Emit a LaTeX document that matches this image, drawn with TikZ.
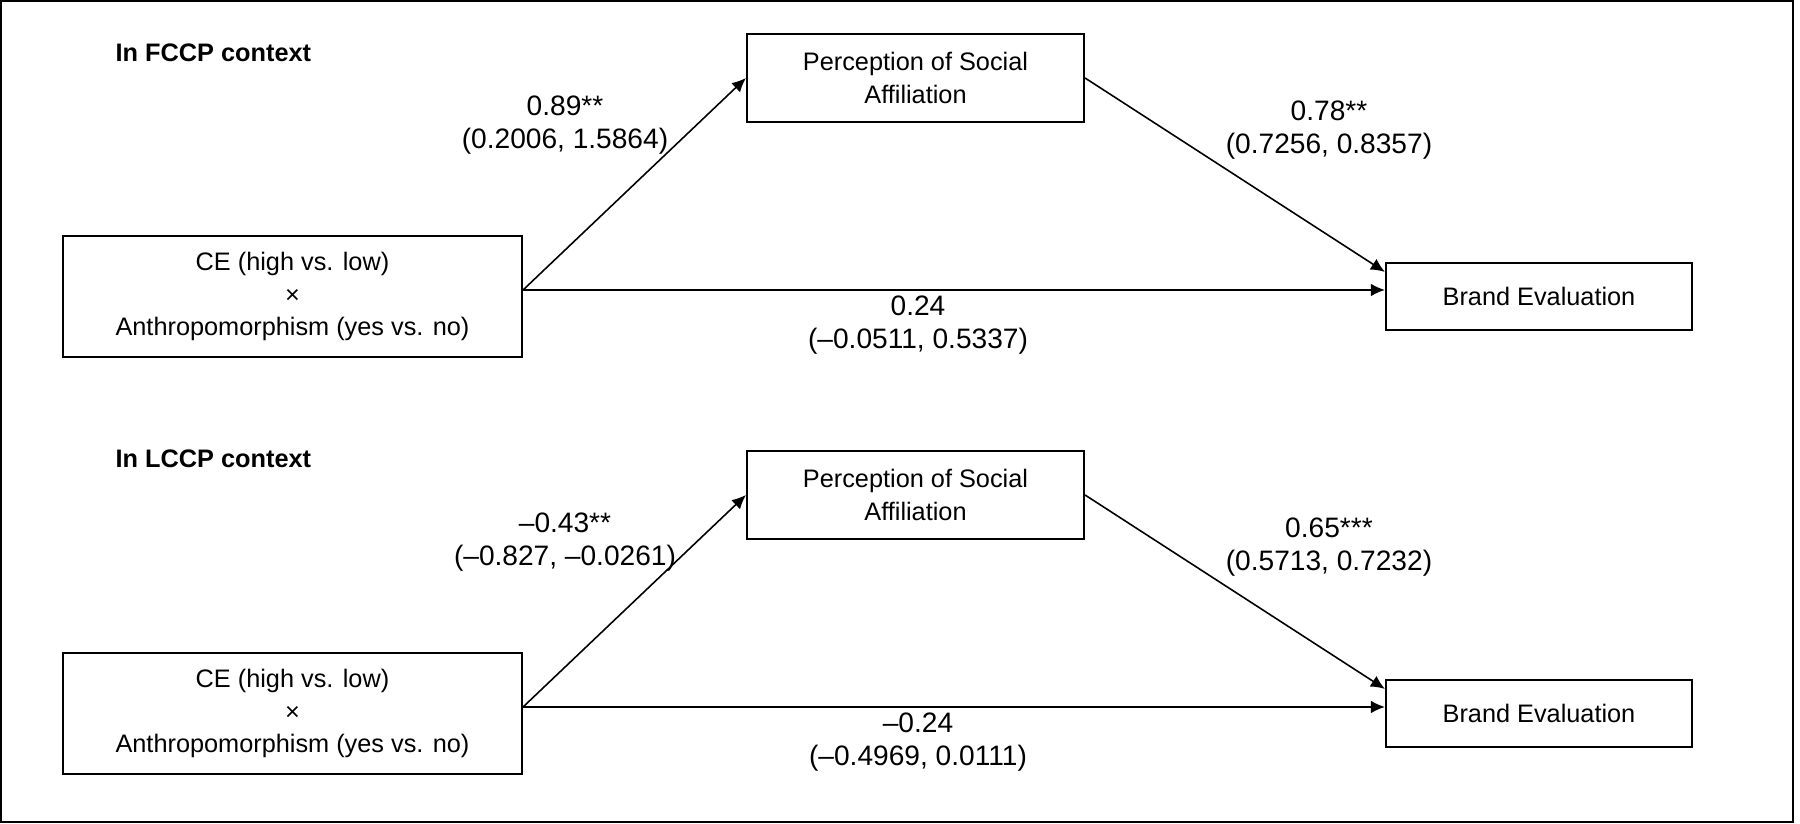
\documentclass[tikz,border=0pt]{standalone}
\usepackage{fontspec}
\setmainfont{Liberation Sans}
\usetikzlibrary{arrows.meta}

\newcommand\diagfont{\fontsize{7.2}{9.2}\selectfont}
\newcommand\coeffont{\fontsize{8}{9.4}\selectfont}

\tikzset{
  varbox/.style={draw, line width=0.6pt, align=center, inner sep=0pt, font=\diagfont},
  pathline/.style={-{Latex[length=4pt,width=3.6pt]}, line width=0.45pt},
  coef/.style={align=center, inner sep=0pt, font=\coeffont},
}

\begin{document}
\begin{tikzpicture}
            \def \lift {0.065}
            \useasboundingbox (0,0) rectangle (18,-8.24);
            \draw[line width=0.6pt] (0.01,-0.01) rectangle (17.93,-8.22);
            \foreach \dy/\ty/\ctx/\ca/\cb/\cc in {0/-0.53/FCCP/{0.89**\\(0.2006, 1.5864)}/{0.78**\\(0.7256, 0.8357)}/{0.24\\(–0.0511, 0.5337)},-4.17/-0.42/LCCP/{–0.43**\\(–0.827, –0.0261)}/{0.65***\\(0.5713, 0.7232)}/{–0.24\\(–0.4969, 0.0111)}}
            {
              \begin{scope}[yshift=\dy cm]
                \node[anchor=west, inner sep=0pt, font=\bfseries\diagfont] (title\ctx) at (1.15,\ty) {In \ctx{} context};
                \node[varbox, minimum width=4.59cm, minimum height=1.21cm] (ce\ctx) at (2.925,-2.965) {CE (high vs. low)\\×\\Anthropomorphism (yes vs. no)};
                \node[varbox, minimum width=3.37cm, minimum height=0.88cm] (med\ctx) at (9.155,-0.78) {Perception of Social\\Affiliation};
                \node[varbox, minimum width=3.06cm, minimum height=0.67cm] (brand\ctx) at (15.39,-2.965) {Brand Evaluation};
                \draw[pathline] ([yshift=\lift cm]ce\ctx.east) -- (med\ctx.west);
                \draw[pathline] (med\ctx.east) -- ([yshift=-0.1cm]brand\ctx.north west);
                \draw[pathline] ([yshift=\lift cm]ce\ctx.east) -- ([yshift=\lift cm]brand\ctx.west);
                \node[coef] (a\ctx) at (5.65,-1.25) {\ca};
                \node[coef] (b\ctx) at (13.29,-1.3) {\cb};
                \node[coef] (c\ctx) at (9.18,-3.25) {\cc};
              \end{scope}
            }
        \end{tikzpicture}
\end{document}
